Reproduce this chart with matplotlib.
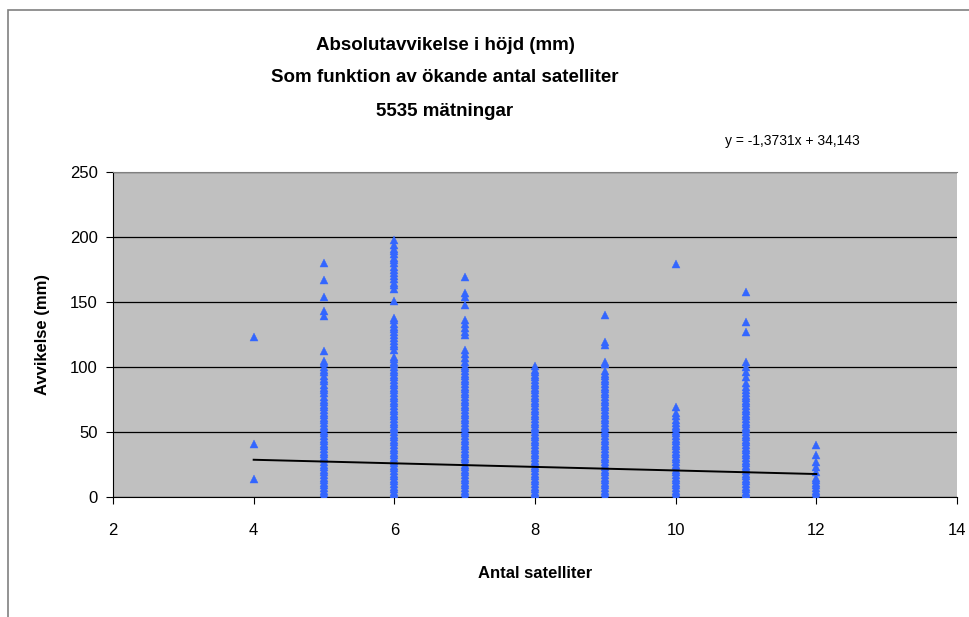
import numpy as np
import matplotlib.pyplot as plt
from matplotlib.patches import Rectangle

plt.rcParams['font.family'] = ['Liberation Sans', 'DejaVu Sans']

# avvikelse (mm) per antal satelliter
sat4 = [123, 41, 14]
sat5 = [180, 167, 154, 143, 139, 112, 105,
        103, 100, 98, 96, 93, 91, 89, 86, 84, 82, 80, 77, 75, 73, 71, 69, 67,
        65, 63, 61, 59, 57, 55, 53, 51, 49, 47, 45, 43, 41, 39, 37, 35, 33,
        31, 29, 27, 25, 23, 21, 19, 17, 15, 13, 11, 9, 7, 5, 3, 1, 0]
sat6 = [198, 194, 191, 189, 187, 184, 182, 180, 177, 175, 172, 170, 168, 165,
        163, 160, 151,
        138, 136, 133, 131, 129, 127, 125, 122, 120, 118, 116, 113,
        108, 106, 104, 102, 100, 98, 96, 94, 92, 90, 88, 86, 84, 82, 80, 78,
        76, 74, 72, 70, 68, 66, 64, 62, 60, 58, 56, 54, 52, 50, 48, 46, 44,
        42, 40, 38, 36, 34, 32, 30, 28, 26, 24, 22, 20, 18, 16, 14, 12, 10,
        8, 6, 4, 2, 0]
sat7 = [169, 157, 154, 148, 136, 133, 130, 127, 125, 113, 110, 107, 104,
        101, 99, 97, 95, 93, 91, 89, 87, 85, 83, 81, 79, 77, 75, 73, 71, 69,
        67, 65, 63, 61, 59, 57, 55, 53, 51, 49, 47, 45, 43, 41, 39, 37, 35,
        33, 31, 29, 27, 25, 23, 21, 19, 17, 15, 13, 11, 9, 7, 5, 3, 1, 0]
sat8 = [101, 98, 96, 94, 92, 90, 88, 86, 84, 82, 80, 78, 76, 74, 72, 70, 68,
        66, 64, 62, 60, 58, 56, 54, 52, 50, 48, 46, 44, 42, 40, 38, 36, 34,
        32, 30, 28, 26, 24, 22, 20, 18, 16, 14, 12, 10, 8, 6, 4, 2, 0]
sat9 = [140, 119, 117, 104, 102,
        97, 95, 93, 91, 89, 87, 85, 83, 81, 79, 77, 75, 73, 71, 69, 67, 65,
        63, 61, 59, 57, 55, 53, 51, 49, 47, 45, 43, 41, 39, 37, 35, 33, 31,
        29, 27, 25, 23, 21, 19, 17, 15, 13, 11, 9, 7, 5, 3, 1, 0]
sat10 = [179, 69, 65, 62, 59, 57, 55, 53, 51, 49, 47, 45, 43, 41, 39, 37, 35,
         33, 31, 29, 27, 25, 23, 21, 19, 17, 15, 13, 11, 9, 7, 5, 3, 1, 0]
sat11 = [158, 135, 127, 104, 100, 96, 92, 88, 85, 82, 80, 78, 76, 74, 72, 70,
         68, 66, 64, 62, 60, 58, 56, 54, 52, 50, 48, 46, 44, 42, 40, 38, 36,
         34, 32, 30, 28, 26, 24, 22, 20, 18, 16, 14, 12, 10, 8, 6, 4, 2, 0]
sat12 = [40, 32, 27, 23, 19, 15, 13, 11, 9, 7, 5, 3, 1, 0]

columns = {4: sat4, 5: sat5, 6: sat6, 7: sat7, 8: sat8, 9: sat9,
           10: sat10, 11: sat11, 12: sat12}

# linjär trend
slope = -1.3731
intercept = 34.143
trend_x = [4, 12]

W, H = 970, 617
fig = plt.figure(figsize=(W / 100, H / 100), dpi=100)

# ram runt diagrammet
fig.patches.append(Rectangle((8 / W, -0.1), 1.2, 1 - 10 / H + 0.1,
                             transform=fig.transFigure, fill=False,
                             edgecolor='#808080', lw=1.2))

ax = fig.add_axes([113 / W, 1 - 497 / H, (957 - 113) / W, (497 - 172) / H])
ax.set_facecolor('#c0c0c0')

xs = []
ys = []
for k, vals in columns.items():
    xs += [k] * len(vals)
    ys += vals
ax.plot(xs, ys, linestyle='none', marker='^', ms=6, color='#3366ff',
        mec='#3366ff', mew=0.3, zorder=3)

ty = [slope * x + intercept for x in trend_x]
ax.plot(trend_x, ty, color='black', lw=1.4, zorder=4)

ax.set_xlim(2, 14)
ax.set_ylim(0, 250)
ax.set_xticks(range(2, 15, 2))
ax.set_yticks(range(0, 251, 50))
ax.grid(axis='y', color='black', lw=0.9)
ax.set_axisbelow(True)

ax.spines['top'].set_color('#808080')
ax.spines['right'].set_visible(False)
ax.spines['left'].set_color('black')
ax.spines['bottom'].set_color('black')
ax.tick_params(direction='out', length=5, width=0.8, labelsize=12)
ax.tick_params(axis='x', pad=14)
ax.tick_params(axis='y', pad=6)

ax.set_xlabel('Antal satelliter', fontsize=12, fontweight='bold', labelpad=20)
ax.set_ylabel('Avvikelse (mm)', fontsize=12, fontweight='bold', labelpad=14)

fig.text(445 / W, 1 - 46 / H, 'Absolutavvikelse i höjd (mm)', ha='center',
         va='center', fontsize=13.5, fontweight='bold')
fig.text(445 / W, 1 - 78 / H, 'Som funktion av ökande antal satelliter',
         ha='center', va='center', fontsize=13.5, fontweight='bold')
fig.text(445 / W, 1 - 111 / H, '5535 mätningar', ha='center', va='center',
         fontsize=13.5, fontweight='bold')
fig.text(792 / W, 1 - 141 / H, 'y = -1,3731x + 34,143', ha='center',
         va='center', fontsize=10)

fig.savefig('out.png', dpi=100)
